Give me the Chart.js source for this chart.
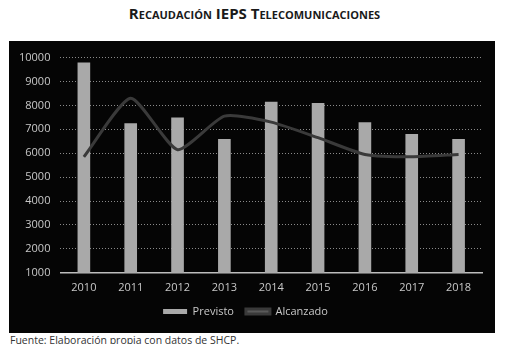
<!DOCTYPE html>
<html>
<head>
<meta charset="utf-8">
<script src="https://cdn.jsdelivr.net/npm/chart.js@4.4.0/dist/chart.umd.min.js"></script>
<style>
    html, body {
        margin: 0;
        padding: 0;
        width: 509px;
        height: 344px;
        overflow: hidden;
        background: #ffffff;
        font-family: 'Open Sans', sans-serif;
    }
    .title {
        position: absolute;
        top: 3px;
        left: 0;
        width: 509px;
        text-align: center;
        font-size: 15px;
        font-weight: bold;
        font-variant: small-caps;
        color: #1a1a1a;
    }
    .panel {
        position: absolute;
        left: 9px;
        top: 41px;
        width: 486px;
        height: 292px;
        background: #050505;
    }
    .source {
        position: absolute;
        left: 10px;
        top: 333px;
        font-size: 10.5px;
        color: #333333;
    }
</style>
</head>
<body>
<div class="title">Recaudación IEPS Telecomunicaciones</div>
<div class="panel"><canvas id="iepsChart" width="486" height="292"></canvas></div>
<div class="source">Fuente: Elaboración propia con datos de SHCP.</div>
<script>
const years = ['2010', '2011', '2012', '2013', '2014', '2015', '2016', '2017', '2018'];
const previsto = [9800, 7250, 7500, 6600, 8150, 8100, 7300, 6800, 6600];
const alcanzado = [5850, 8300, 6150, 7550, 7300, 6650, 5950, 5850, 5950];
const yMin = 1000;
const yMax = 10000;
const yStep = 1000;

document.addEventListener('DOMContentLoaded', () => {
    initChart();
});

function initChart() {
    const canvas = document.getElementById('iepsChart');
    if (!canvas || typeof Chart === 'undefined') {
        return;
    }

    new Chart(canvas, {
        data: {
            labels: years,
            datasets: [
                {
                    type: 'line',
                    label: 'Alcanzado',
                    data: alcanzado,
                    order: 0,
                    borderColor: '#3a3a3a',
                    backgroundColor: '#5a5a5a',
                    borderWidth: 3,
                    pointRadius: 0,
                    tension: 0.2,
                    fill: false
                },
                {
                    type: 'bar',
                    label: 'Previsto',
                    data: previsto,
                    order: 1,
                    backgroundColor: '#a9a9a9',
                    borderWidth: 0,
                    barPercentage: 0.27,
                    categoryPercentage: 1
                }
            ]
        },
        options: {
            responsive: false,
            animation: false,
            layout: {
                padding: { left: 0, right: 13, top: 5, bottom: 6 }
            },
            plugins: {
                legend: {
                    position: 'bottom',
                    reverse: true,
                    labels: {
                        color: '#c8c8c8',
                        boxWidth: 24,
                        boxHeight: 5,
                        padding: 12,
                        font: { family: 'Open Sans', size: 11 }
                    }
                },
                tooltip: { enabled: false }
            },
            scales: {
                x: {
                    grid: { display: false },
                    border: { display: true, color: '#bdbdbd', width: 1.5 },
                    ticks: {
                        color: '#c8c8c8',
                        font: { family: 'Open Sans', size: 11 },
                        padding: 0
                    }
                },
                y: {
                    min: yMin,
                    max: yMax,
                    border: { display: false, dash: [1, 2] },
                    grid: {
                        color: '#8a8a8a',
                        lineWidth: 1,
                        drawTicks: false
                    },
                    ticks: {
                        stepSize: yStep,
                        color: '#c8c8c8',
                        font: { family: 'Open Sans', size: 11 },
                        padding: 10,
                        callback(value) {
                            return String(value);
                        }
                    }
                }
            }
        }
    });
}
</script>
</body>
</html>
